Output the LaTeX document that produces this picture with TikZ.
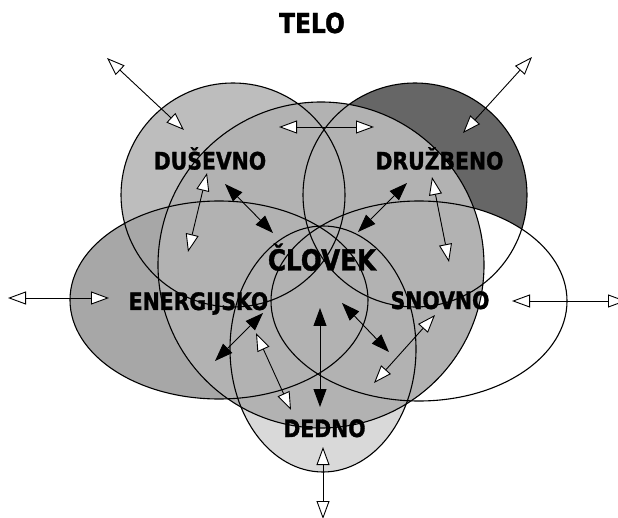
\documentclass[tikz,border=0pt]{standalone}
\usepackage{fontspec}
\newfontfamily\lblfont{DejaVu Sans}[FakeStretch=0.85,FakeBold=1.2]
\usetikzlibrary{arrows.meta}
\definecolor{psyche}{gray}{0.74}
\definecolor{social}{gray}{0.40}
\definecolor{energy}{gray}{0.655}
\definecolor{body}{gray}{0.70}
\definecolor{heredity}{gray}{0.85}
\begin{document}
\begin{tikzpicture}[x=1pt,y=-1pt,
  outline/.style={draw=black,line width=1.1pt},
  lbl/.style={font=\lblfont\bfseries\fontsize{24}{24}\selectfont,inner sep=0pt,anchor=base},
  biglbl/.style={lbl,font=\lblfont\bfseries\fontsize{29}{29}\selectfont},
  titlelbl/.style={lbl,font=\lblfont\bfseries\fontsize{27.5}{27.5}\selectfont},
  openhead/.tip={Triangle[fill=white,length=18pt,width=13pt]},
  solidhead/.tip={Triangle[length=18pt,width=13pt]},
  openarr/.style={line width=0.9pt,openhead-openhead},
  solidarr/.style={line width=0.9pt,solidhead-solidhead}]
\useasboundingbox (0,0) rectangle (618,518);
\clip (0,0) rectangle (618,518);

% areas, back to front
\fill[psyche]   (233,195) circle[radius=112pt];
\fill[social]   (415,195) circle[radius=112pt];
\fill[energy]   (219,300) ellipse[x radius=149pt,y radius=99pt];
\fill[white]    (419,301) ellipse[x radius=148pt,y radius=100pt];
\fill[heredity] (323,349) ellipse[x radius=93pt,y radius=123pt];
\fill[body]     (321,265) circle[radius=163pt];

% outlines of all areas
\draw[outline] (233,195) circle[radius=112pt];
\draw[outline] (415,195) circle[radius=112pt];
\draw[outline] (219,300) ellipse[x radius=149pt,y radius=99pt];
\draw[outline] (419,301) ellipse[x radius=148pt,y radius=100pt];
\draw[outline] (323,349) ellipse[x radius=93pt,y radius=123pt];
\draw[outline] (321,265) circle[radius=163pt];

% labels
\node[titlelbl] (telo) at (312,33) {TELO};
\node[lbl] (dusevno) at (210,169.5) {DUŠEVNO};
\node[lbl] (druzbeno) at (439.5,169.5) {DRUŽBENO};
\node[biglbl] (clovek) at (322,270.5) {ČLOVEK};
\node[lbl] (energijsko) at (198.5,310) {ENERGIJSKO};
\node[lbl] (snovno) at (440,309) {SNOVNO};
\node[lbl] (dedno) at (324.5,437) {DEDNO};

% arrow end points
\coordinate (a1s) at (107,58);   \coordinate (a1e) at (184,130);
\coordinate (a2s) at (532,57);   \coordinate (a2e) at (463,133);
\coordinate (a3s) at (279,127);  \coordinate (a3e) at (374,127);
\coordinate (a4s) at (207,173);  \coordinate (a4e) at (188,252);
\coordinate (a5s) at (225,184);  \coordinate (a5e) at (273,233);
\coordinate (a6s) at (407,183);  \coordinate (a6e) at (358,232);
\coordinate (a7s) at (432,177);  \coordinate (a7e) at (449,262);
\coordinate (a8s) at (8,298);    \coordinate (a8e) at (109,298);
\coordinate (a9s) at (512,301);  \coordinate (a9e) at (626,301);
\coordinate (a10s) at (263,313); \coordinate (a10e) at (215,361);
\coordinate (a11s) at (256,333); \coordinate (a11e) at (291,410);
\coordinate (a12s) at (320,308); \coordinate (a12e) at (320,407);
\coordinate (a13s) at (342,303); \coordinate (a13e) at (389,352);
\coordinate (a14s) at (435,315); \coordinate (a14e) at (374,383);
\coordinate (a15s) at (323,447); \coordinate (a15e) at (323,519);

% arrows
\draw[openarr]  (a1s) -- (a1e);
\draw[openarr]  (a2s) -- (a2e);
\draw[openarr]  (a3s) -- (a3e);
\draw[openarr]  (a4s) -- (a4e);
\draw[solidarr] (a5s) -- (a5e);
\draw[solidarr] (a6s) -- (a6e);
\draw[openarr]  (a7s) -- (a7e);
\draw[openarr]  (a8s) -- (a8e);
\draw[openarr]  (a9s) -- (a9e);
\draw[solidarr] (a10s) -- (a10e);
\draw[openarr]  (a11s) -- (a11e);
\draw[solidarr] (a12s) -- (a12e);
\draw[solidarr] (a13s) -- (a13e);
\draw[openarr]  (a14s) -- (a14e);
\draw[openarr]  (a15s) -- (a15e);
\end{tikzpicture}
\end{document}
